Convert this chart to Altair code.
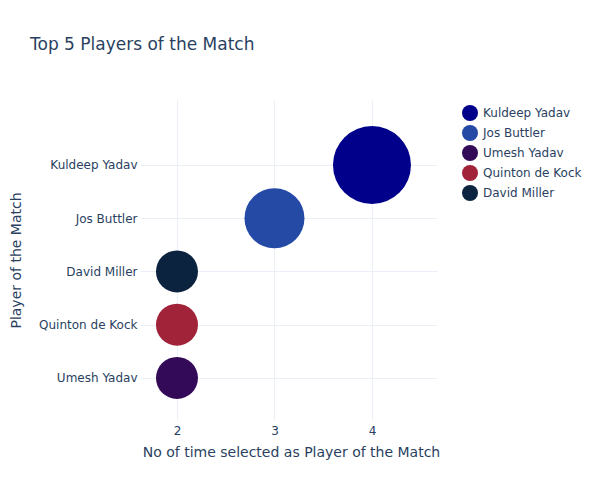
import altair as alt
import pandas as pd

players = ["Kuldeep Yadav", "Jos Buttler", "Umesh Yadav", "Quinton de Kock", "David Miller"]
counts = [4, 3, 2, 2, 2]
colors = ["#00008B", "#254AA5", "#330A57", "#A1233A", "#0C2340"]
# vertical order, bottom to top
y_order = ["Umesh Yadav", "Quinton de Kock", "David Miller", "Jos Buttler", "Kuldeep Yadav"]

df = pd.DataFrame({
    "player": players,
    "count": counts,
    "ypos": [y_order.index(p) for p in players],
})

label_expr = "[" + ",".join("'" + p + "'" for p in y_order) + "][datum.value]"

FONT = "DejaVu Sans"
TXT = "#2a3f5f"
GRID = "#EBF0F8"

chart = alt.Chart(df).mark_circle(opacity=1).encode(
    x=alt.X("count:Q",
            scale=alt.Scale(domain=[1.672, 4.667], nice=False, zero=False),
            axis=alt.Axis(values=[2, 3, 4], title="No of time selected as Player of the Match",
                          format="d", grid=True, gridColor=GRID, domain=False, ticks=False,
                          labelPadding=5, titlePadding=9)),
    y=alt.Y("ypos:Q",
            scale=alt.Scale(domain=[-0.79, 5.22], nice=False, zero=False),
            axis=alt.Axis(values=[0, 1, 2, 3, 4], labelExpr=label_expr, title="Player of the Match",
                          grid=True, gridColor=GRID, domain=False, ticks=True, tickColor=GRID,
                          tickSize=5, labelPadding=3, titlePadding=15)),
    size=alt.Size("count:Q", scale=alt.Scale(domain=[2, 3, 4], range=[1764, 3600, 6084]), legend=None),
    color=alt.Color("player:N", scale=alt.Scale(domain=players, range=colors),
                    legend=alt.Legend(title=None, orient="none", legendX=316, legendY=4,
                                      symbolType="circle", symbolSize=256, symbolOpacity=1,
                                      labelFontSize=12, labelColor=TXT, labelFont=FONT,
                                      rowPadding=3, labelOffset=4)),
).properties(
    width=292, height=320,
    padding={"left": 137, "top": 92, "right": 155, "bottom": 72},
    autosize=alt.AutoSizeParams(type="none"),
    title=alt.TitleParams("Top 5 Players of the Match", anchor="start", frame="group", dx=-115,
                          offset=33, fontSize=17, font=FONT, color=TXT, fontWeight="normal",
                          baseline="alphabetic"),
).configure_view(stroke=None).configure_axis(
    labelFont=FONT, titleFont=FONT, labelFontSize=12, titleFontSize=14,
    labelColor=TXT, titleColor=TXT, titleFontWeight="normal"
)

chart.save("out.html", embed_options={"renderer": "svg", "actions": False})
